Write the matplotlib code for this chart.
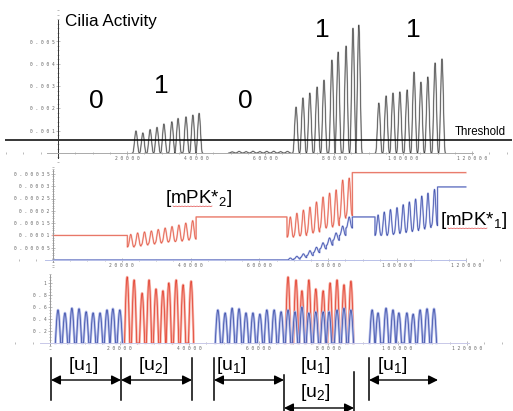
import numpy as np
import matplotlib.pyplot as plt
from matplotlib.ticker import MultipleLocator

plt.rcParams['font.family'] = 'Liberation Sans'
plt.rcParams['mathtext.fontset'] = 'custom'
plt.rcParams['mathtext.rm'] = 'Liberation Sans'

# ---- data ----
xticks = [20000, 40000, 60000, 80000, 100000, 120000]
xlabels = ['20000', '40000', '60000', '80000', '100000', '120000']

# top: cilia activity peaks (time, height)
act_t0 = [50500, 52500, 54500, 56500, 58500, 60500, 62500, 64500, 66500]
act_h0 = [0.00005, 0.00007, 0.00006, 0.00008, 0.00006, 0.00007, 0.00008, 0.00006, 0.00007]
act_t1 = [22600, 24600, 26700, 28700, 30700, 33000, 34800, 37100, 39100, 40900]
act_h1 = [0.00099, 0.0009, 0.00105, 0.00115, 0.0013, 0.0014, 0.00155, 0.00162, 0.0017, 0.00178]
act_t2 = [69000, 71000, 73000, 75100, 77100, 79400, 81200, 83500, 85500, 87200]
act_h2 = [0.00206, 0.00247, 0.00269, 0.00296, 0.00327, 0.00417, 0.00453, 0.0048, 0.0056, 0.00574]
act_t3 = [93000, 95100, 97100, 99100, 101200, 103200, 105200, 107200, 109300, 111300]
act_h3 = [0.00224, 0.00256, 0.00269, 0.00274, 0.00283, 0.00363, 0.00318, 0.00341, 0.00404, 0.00422]
threshold = 0.00058
top_yticks = [0.001, 0.002, 0.003, 0.004, 0.005]
top_ylabels = ['0.001', '0.002', '0.003', '0.004', '0.005']
activity_labels = ['0', '1', '0', '1', '1']

# middle: mPK*2 (red) and mPK*1 (blue)
red_flat = [(0, 21600, 0.0001), (41600, 68000, 0.000175), (87000, 120000, 0.000355)]
red_t1 = [22600, 24600, 26600, 28600, 30600, 32600, 34600, 36600, 38600, 40600]
red_pk1 = [0.000104, 0.00011, 0.000114, 0.000118, 0.000124, 0.00013, 0.000136, 0.000142, 0.00015, 0.00016]
red_tr1 = [0.000053, 0.000057, 0.000061, 0.000065, 0.000069, 0.000073, 0.000075, 0.000077, 0.000081, 0.000085]
red_t2 = [69000, 70900, 72800, 74700, 76600, 78500, 80400, 82300, 84200, 86100]
red_pk2 = [0.000175, 0.00019, 0.000203, 0.000215, 0.000236, 0.000256, 0.000272, 0.000285, 0.000325, 0.000333]
red_tr2 = [0.000093, 0.000098, 0.0001, 0.00011, 0.000114, 0.00013, 0.000134, 0.00014, 0.00017, 0.00018]
blue_flat = [(0, 68000, 0.0), (87000, 93600, 0.000175), (111800, 120000, 0.000297)]
blue_t1 = red_t2
blue_pk1 = [0.000008, 0.000015, 0.000025, 0.000038, 0.000052, 0.00007, 0.00009, 0.00011, 0.000138, 0.000175]
blue_tr1 = [0.0, 0.000004, 0.00001, 0.000018, 0.00003, 0.000045, 0.00006, 0.00008, 0.0001, 0.00013]
blue_t2 = [94500, 96300, 98100, 100000, 101800, 103600, 105400, 107200, 109000, 110900]
blue_pk2 = [0.000183, 0.000195, 0.000205, 0.000213, 0.000225, 0.000236, 0.000248, 0.00026, 0.000272, 0.000287]
blue_tr2 = [0.0001, 0.0001, 0.000104, 0.000108, 0.000112, 0.000116, 0.00012, 0.000126, 0.000132, 0.00014]
mid_yticks = [0.00005, 0.0001, 0.00015, 0.0002, 0.00025, 0.0003, 0.00035]
mid_ylabels = ['0.00005', '0.0001', '0.00015', '0.0002', '0.00025', '0.0003', '0.00035']

# bottom: stimuli u1 (blue) and u2 (red)
u1_t1 = [2300, 4300, 6300, 8350, 10400, 12400, 14400, 16400, 18100, 20100]
u1_h1 = [0.55, 0.50, 0.58, 0.57, 0.52, 0.50, 0.50, 0.55, 0.57, 0.55]
u1_t2 = [48300, 50400, 52400, 54400, 56400, 58400, 60400, 62400, 64500, 66500,
         68500, 70500, 72500, 74500, 76500, 78600, 80300, 82600, 84600, 86600]
u1_h2 = [0.55, 0.50, 0.58, 0.57, 0.50, 0.50, 0.48, 0.55, 0.55, 0.52,
         0.55, 0.52, 0.60, 0.50, 0.52, 0.52, 0.52, 0.55, 0.58, 0.55]
u1_t3 = [92700, 94400, 96700, 98700, 100400, 102700, 104500, 106500, 108500, 110500]
u1_h3 = [0.55, 0.50, 0.58, 0.55, 0.50, 0.50, 0.48, 0.55, 0.57, 0.57]
u2_t1 = [22200, 24200, 26500, 28500, 30500, 32500, 34200, 36300, 38300, 40600]
u2_h1 = [1.1, 1.05, 0.83, 1.05, 0.9, 0.87, 1.0, 1.05, 0.97, 1.03]
u2_t2 = [68500, 70800, 72500, 74500, 76500, 78600, 80600, 82600, 84600, 86600]
u2_h2 = [1.1, 1.05, 0.87, 1.05, 0.9, 0.87, 1.0, 1.05, 0.97, 1.03]
bot_yticks = [0.2, 0.4, 0.6, 0.8, 1]
bot_ylabels = ['0.2', '0.4', '0.6', '0.8', '1']

W, H = 513, 411
fig = plt.figure(figsize=(W / 100, H / 100), dpi=100)


def place(box, x0, xs, y0, ys):
    # box in pixels (left, top, right, bottom); x0/y0 = pixel of data origin
    l, t, r, b = box
    ax = fig.add_axes([l / W, 1 - b / H, (r - l) / W, (b - t) / H])
    ax.set_xlim((l - x0) / xs, (r - x0) / xs)
    ax.set_ylim((y0 - b) / ys, (y0 - t) / ys)
    ax.patch.set_alpha(0)
    return ax


def spaced(s):
    return ' '.join(s)


def style(ax, yt, yl, ybounds, xbounds, ymin, axcol, xcol):
    for s in ['top', 'right']:
        ax.spines[s].set_visible(False)
    ax.spines['left'].set_position(('data', 0))
    ax.spines['bottom'].set_position(('data', 0))
    ax.spines['left'].set_bounds(*ybounds)
    ax.spines['bottom'].set_bounds(*xbounds)
    ax.spines['left'].set_color(axcol)
    ax.spines['bottom'].set_color(xcol)
    ax.spines['left'].set_linewidth(0.7)
    ax.spines['bottom'].set_linewidth(0.7)
    ax.set_xticks(xticks, [spaced(s) for s in xlabels])
    ax.set_yticks(yt, [spaced(s) for s in yl])
    ax.xaxis.set_minor_locator(MultipleLocator(5000))
    ax.yaxis.set_minor_locator(MultipleLocator(ymin))
    ax.tick_params(which='both', direction='inout', width=0.4, colors='#888888',
                   labelsize=3.3, pad=1)
    ax.tick_params(which='major', length=3)
    ax.tick_params(which='minor', length=1.5)
    for lb in ax.get_xticklabels() + ax.get_yticklabels():
        lb.set_family('DejaVu Sans Mono')
        lb.set_color('#666666')


def pulse_train(times, heights, width, pw=2, n=50):
    ts, ys = [], []
    for tp, h in zip(times, heights):
        tt = np.linspace(tp - width / 2, tp + width / 2, n)
        ts.append(tt)
        ys.append(h * np.abs(np.cos(np.pi * (tt - tp) / width)) ** pw)
    return np.concatenate(ts), np.concatenate(ys)


def wave(times, peaks, troughs, period, n=40):
    ts, ys = [], []
    for tp, pk, tr in zip(times, peaks, troughs):
        tt = np.linspace(tp - period / 2, tp + period / 2, n)
        s = (0.5 + 0.5 * np.cos(2 * np.pi * (tt - tp) / period)) ** 1.5
        ts.append(tt)
        ys.append(tr + (pk - tr) * s)
    return np.concatenate(ts), np.concatenate(ys)


def stitch(flats, waves):
    pieces = [(a, np.array([a, b]), np.array([v, v])) for a, b, v in flats]
    pieces += [(w[0][0], w[0], w[1]) for w in waves]
    pieces.sort(key=lambda p: p[0])
    return np.concatenate([p[1] for p in pieces]), np.concatenate([p[2] for p in pieces])


# ---- top panel ----
ax1 = place((5, 8, 512, 162), 58, 69 / 20000, 153, 22300)
style(ax1, top_yticks, top_ylabels, (-0.00022, 0.00596), (-3200, 120300), 0.0002,
      '#333333', '#aaaaaa')
for tt, hh in [(act_t0, act_h0), (act_t1, act_h1), (act_t2, act_h2), (act_t3, act_h3)]:
    x, y = pulse_train(tt, hh, 2000, pw=2.5)
    ax1.plot(x, y, color='#c4c4c4', lw=1.2)
    ax1.plot(x, y, color='#3a3a3a', lw=0.45)
ax1.plot(ax1.get_xlim(), [threshold, threshold], color='black', lw=1.1)

# ---- middle panel ----
ax2 = place((5, 165, 512, 268), 53, 68.8 / 20000, 260, 246000)
style(ax2, mid_yticks, mid_ylabels, (-0.000008, 0.000366), (-2300, 120000), 0.00001,
      '#999999', '#b8c0e8')
rx, ry = stitch(red_flat, [wave(red_t1, red_pk1, red_tr1, 2000),
                           wave(red_t2, red_pk2, red_tr2, 1900)])
bx, by = stitch(blue_flat, [wave(blue_t1, blue_pk1, blue_tr1, 1900),
                            wave(blue_t2, blue_pk2, blue_tr2, 1820)])
ax2.plot(rx, ry, color='#f7c4bc', lw=1.3)
ax2.plot(rx, ry, color='#e4604e', lw=0.55)
ax2.plot(bx, by, color='#bcc4ec', lw=1.3)
ax2.plot(bx, by, color='#4656ad', lw=0.55)

# ---- bottom panel ----
ax3 = place((5, 272, 512, 350), 50, 69.5 / 20000, 343, 60)
style(ax3, bot_yticks, bot_ylabels, (-0.03, 1.13), (-2900, 120500), 0.05,
      '#999999', '#c8c8e8')
for tt, hh in [(u2_t1, u2_h1), (u2_t2, u2_h2)]:
    x, y = pulse_train(tt, hh, 1500, pw=1)
    ax3.plot(x, y, color='#f6b0a6', lw=1.8)
    ax3.plot(x, y, color='#e2402f', lw=0.55)
for tt, hh in [(u1_t1, u1_h1), (u1_t2, u1_h2), (u1_t3, u1_h3)]:
    x, y = pulse_train(tt, hh, 1500, pw=1)
    ax3.plot(x, y, color='#b0b9e8', lw=1.8)
    ax3.plot(x, y, color='#3d4fa8', lw=0.55)

# ---- overlay for text and interval arrows (pixel coordinates) ----
ov = fig.add_axes([0, 0, 1, 1])
ov.set_xlim(0, W)
ov.set_ylim(H, 0)
ov.axis('off')
ov.patch.set_alpha(0)

ov.text(65, 26, 'Cilia Activity', fontsize=12.3, va='baseline', ha='left')
for (px, py), lab in zip([(96, 108), (161, 93), (245, 108), (322, 37), (413, 37)],
                         activity_labels):
    ov.text(px, py, lab, fontsize=19, ha='center', va='baseline')
ov.text(455, 135, 'Threshold', fontsize=8.3, va='baseline', ha='left')

ov.text(165, 203, r'[mPK*$_{\mathregular{2}}$]', fontsize=13.5, va='baseline')
ov.text(440, 225, r'[mPK*$_{\mathregular{1}}$]', fontsize=13.5, va='baseline')
# spell-check squiggles under "mPK"
zz = np.arange(0, 40, 1.5)
ov.plot(173 + zz, 206 + 0.7 * (np.arange(len(zz)) % 2), color='#e05050', lw=0.5)
ov.plot(448 + zz, 228 + 0.7 * (np.arange(len(zz)) % 2), color='#e05050', lw=0.5)

for px in [51, 121, 192, 214, 369]:
    ov.plot([px, px], [358, 400], color='black', lw=1.1)
ov.plot([284, 284], [375, 411], color='black', lw=1.1)
ov.plot([354, 354], [372, 411], color='black', lw=1.1)

arrows = [(51, 121, 380), (121, 192, 380), (214, 284, 380), (369, 438, 380), (284, 354, 408)]
for a, b, yy in arrows:
    ov.annotate('', xy=(b, yy), xytext=(a, yy),
                arrowprops=dict(arrowstyle='<|-|>,head_length=0.4,head_width=0.2',
                                mutation_scale=14, lw=1.0, color='black',
                                shrinkA=0, shrinkB=0))

for px, py, lab in [(83, 370, '1'), (153, 370, '2'), (231, 370, '1'),
                    (315, 370, '1'), (315, 397, '2'), (392, 370, '1')]:
    ov.text(px, py, r'[u$_{\mathregular{%s}}$]' % lab, fontsize=14,
            ha='center', va='baseline')

fig.savefig('out.png', dpi=100)
